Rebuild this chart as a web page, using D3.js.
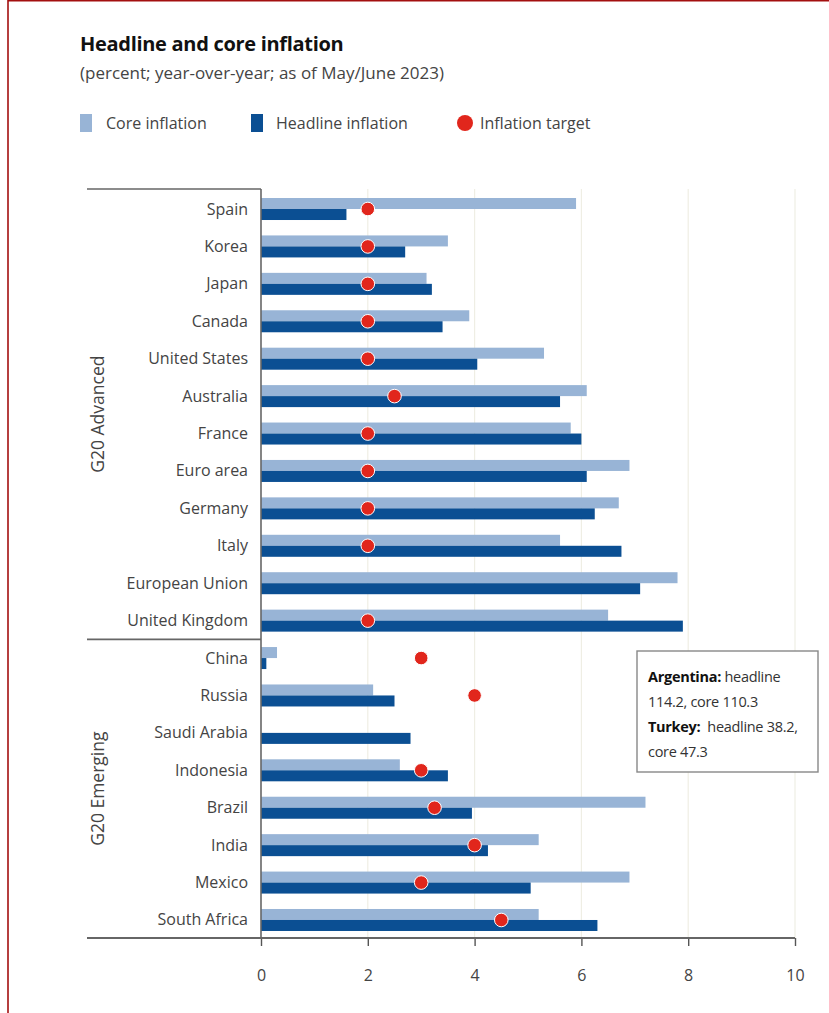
<!DOCTYPE html>
<html>
<head>
<meta charset="utf-8">
<script src="https://cdn.jsdelivr.net/npm/d3@7"></script>
<style>
  html, body { margin: 0; padding: 0; background: #fff; }
  svg { display: block; font-family: 'Open Sans', sans-serif; }
</style>
</head>
<body>
<svg width="829" height="1013"></svg>
<script>
const width = 829
const height = 1013

// rows, top to bottom
const countries = [
  'Spain', 'Korea', 'Japan', 'Canada', 'United States', 'Australia', 'France',
  'Euro area', 'Germany', 'Italy', 'European Union', 'United Kingdom',
  'China', 'Russia', 'Saudi Arabia', 'Indonesia', 'Brazil', 'India', 'Mexico', 'South Africa'
]
const groups = [
  { name: 'G20 Advanced', first: 'Spain', last: 'United Kingdom' },
  { name: 'G20 Emerging', first: 'China', last: 'South Africa' }
]
const core = [5.9, 3.5, 3.1, 3.9, 5.3, 6.1, 5.8, 6.9, 6.7, 5.6, 7.8, 6.5,
  0.3, 2.1, null, 2.6, 7.2, 5.2, 6.9, 5.2]
const headline = [1.6, 2.7, 3.2, 3.4, 4.05, 5.6, 6.0, 6.1, 6.25, 6.75, 7.1, 7.9,
  0.1, 2.5, 2.8, 3.5, 3.95, 4.25, 5.05, 6.3]
const target = [2, 2, 2, 2, 2, 2.5, 2, 2, 2, 2, null, 2,
  3, 4, null, 3, 3.25, 4, 3, 4.5]
const xTicks = [0, 2, 4, 6, 8, 10]

const coreColor = '#98b4d6'
const headColor = '#0b4f93'
const dotColor = '#e1261c'
const textColor = '#444'

const rows = countries.map((c, i) => ({ c, core: core[i], head: headline[i], target: target[i] }))

const svg = d3.select('svg')

// frame
svg.append('line').attr('x1', 8).attr('x2', width).attr('y1', 0.8).attr('y2', 0.8)
  .attr('stroke', '#a30f0f').attr('stroke-width', 1.6)
svg.append('line').attr('x1', 8).attr('x2', 8).attr('y1', 0).attr('y2', height)
  .attr('stroke', '#a30f0f').attr('stroke-width', 1.6)

// title
svg.append('text').attr('x', 80).attr('y', 51)
  .attr('font-size', 20).attr('font-weight', 'bold').attr('fill', '#111')
  .attr('letter-spacing', -0.3)
  .text('Headline and core inflation')
svg.append('text').attr('x', 80).attr('y', 79)
  .attr('font-size', 17).attr('fill', textColor)
  .text('(percent; year-over-year; as of May/June 2023)')

// legend
const legend = svg.append('g').attr('font-size', 16).attr('fill', textColor)
legend.append('rect').attr('x', 80).attr('y', 114).attr('width', 12).attr('height', 18).attr('fill', coreColor)
legend.append('text').attr('x', 106).attr('y', 129).text('Core inflation')
legend.append('rect').attr('x', 251).attr('y', 114).attr('width', 12).attr('height', 18).attr('fill', headColor)
legend.append('text').attr('x', 276).attr('y', 129).text('Headline inflation')
legend.append('circle').attr('cx', 465).attr('cy', 123).attr('r', 8).attr('fill', dotColor)
legend.append('text').attr('x', 480).attr('y', 129).text('Inflation target')

// scales
const x = d3.scaleLinear().domain([0, 10]).range([261, 795])
const y = d3.scaleBand().domain(countries).range([190.3, 938.7])
const mid = c => y(c) + y.bandwidth() / 2
const barH = 11

const plotTop = 189
const plotBottom = 938

// gridlines
svg.append('g').selectAll('line').data(xTicks.filter(d => d > 0)).join('line')
  .attr('x1', d => x(d)).attr('x2', d => x(d))
  .attr('y1', plotTop).attr('y2', plotBottom)
  .attr('stroke', '#efeee4').attr('stroke-width', 1.2)

// bars
svg.append('g').selectAll('rect').data(rows.filter(d => d.core != null)).join('rect')
  .attr('x', x(0)).attr('y', d => mid(d.c) - barH)
  .attr('width', d => x(d.core) - x(0)).attr('height', barH)
  .attr('fill', coreColor)
svg.append('g').selectAll('rect').data(rows.filter(d => d.head != null)).join('rect')
  .attr('x', x(0)).attr('y', d => mid(d.c))
  .attr('width', d => x(d.head) - x(0)).attr('height', barH)
  .attr('fill', headColor)

// targets
svg.append('g').selectAll('circle').data(rows.filter(d => d.target != null)).join('circle')
  .attr('cx', d => x(d.target)).attr('cy', d => mid(d.c))
  .attr('r', 6.8).attr('fill', dotColor)
  .attr('stroke', '#fff').attr('stroke-width', 1)

// country labels
svg.append('g').attr('font-size', 16).attr('fill', textColor).attr('text-anchor', 'end')
  .selectAll('text').data(countries).join('text')
  .attr('x', 248).attr('y', d => mid(d) + 5.5)
  .text(d => d)

// group frame lines
const frame = svg.append('g').attr('stroke', '#666').attr('stroke-width', 1.6)
frame.append('line').attr('x1', 87).attr('x2', x(0)).attr('y1', plotTop).attr('y2', plotTop)
frame.append('line').attr('x1', x(0)).attr('x2', x(0)).attr('y1', plotTop).attr('y2', plotBottom)
const split = y('China')
frame.append('line').attr('x1', 87).attr('x2', x(0)).attr('y1', split).attr('y2', split)

// group labels
groups.forEach(g => {
  const y0 = g.first === countries[0] ? plotTop : y(g.first)
  const y1 = g.last === countries[countries.length - 1] ? plotBottom : y(g.last) + y.bandwidth()
  const cy = (y0 + y1) / 2
  svg.append('text')
    .attr('transform', `translate(104, ${cy}) rotate(-90)`)
    .attr('text-anchor', 'middle').attr('font-size', 17.5).attr('fill', textColor)
    .text(g.name)
})

// x axis
const axis = svg.append('g').attr('transform', `translate(0, ${plotBottom})`)
  .call(d3.axisBottom(x).tickValues(xTicks).tickSize(8).tickPadding(24).tickSizeOuter(0))
axis.select('.domain').remove()
axis.selectAll('.tick line').attr('stroke', '#555').attr('stroke-width', 1.4)
axis.selectAll('.tick text').attr('font-size', 16).attr('fill', textColor)
  .attr('font-family', "'Open Sans', sans-serif")
axis.append('line').attr('x1', 87).attr('x2', x(10)).attr('y1', 0).attr('y2', 0)
  .attr('stroke', '#666').attr('stroke-width', 1.8)

// note box
const note = svg.append('g')
note.append('rect').attr('x', 637).attr('y', 651).attr('width', 181).attr('height', 121)
  .attr('fill', '#fff').attr('stroke', '#888').attr('stroke-width', 1.4)
const noteText = note.append('text').attr('font-size', 14.5).attr('fill', '#333')
  .attr('letter-spacing', -0.3)
const noteLines = [
  [['Argentina:', true], [' headline', false]],
  [['114.2, core 110.3', false]],
  [['Turkey:', true], ['  headline 38.2,', false]],
  [['core 47.3', false]]
]
noteLines.forEach((line, i) => {
  line.forEach(([s, bold], j) => {
    const sp = noteText.append('tspan').text(s)
      .attr('font-weight', bold ? 'bold' : null)
      .attr('fill', bold ? '#111' : '#333')
      .style('white-space', 'pre')
    if (j === 0) sp.attr('x', 648).attr('y', 682 + i * 25)
  })
})
</script>
</body>
</html>
